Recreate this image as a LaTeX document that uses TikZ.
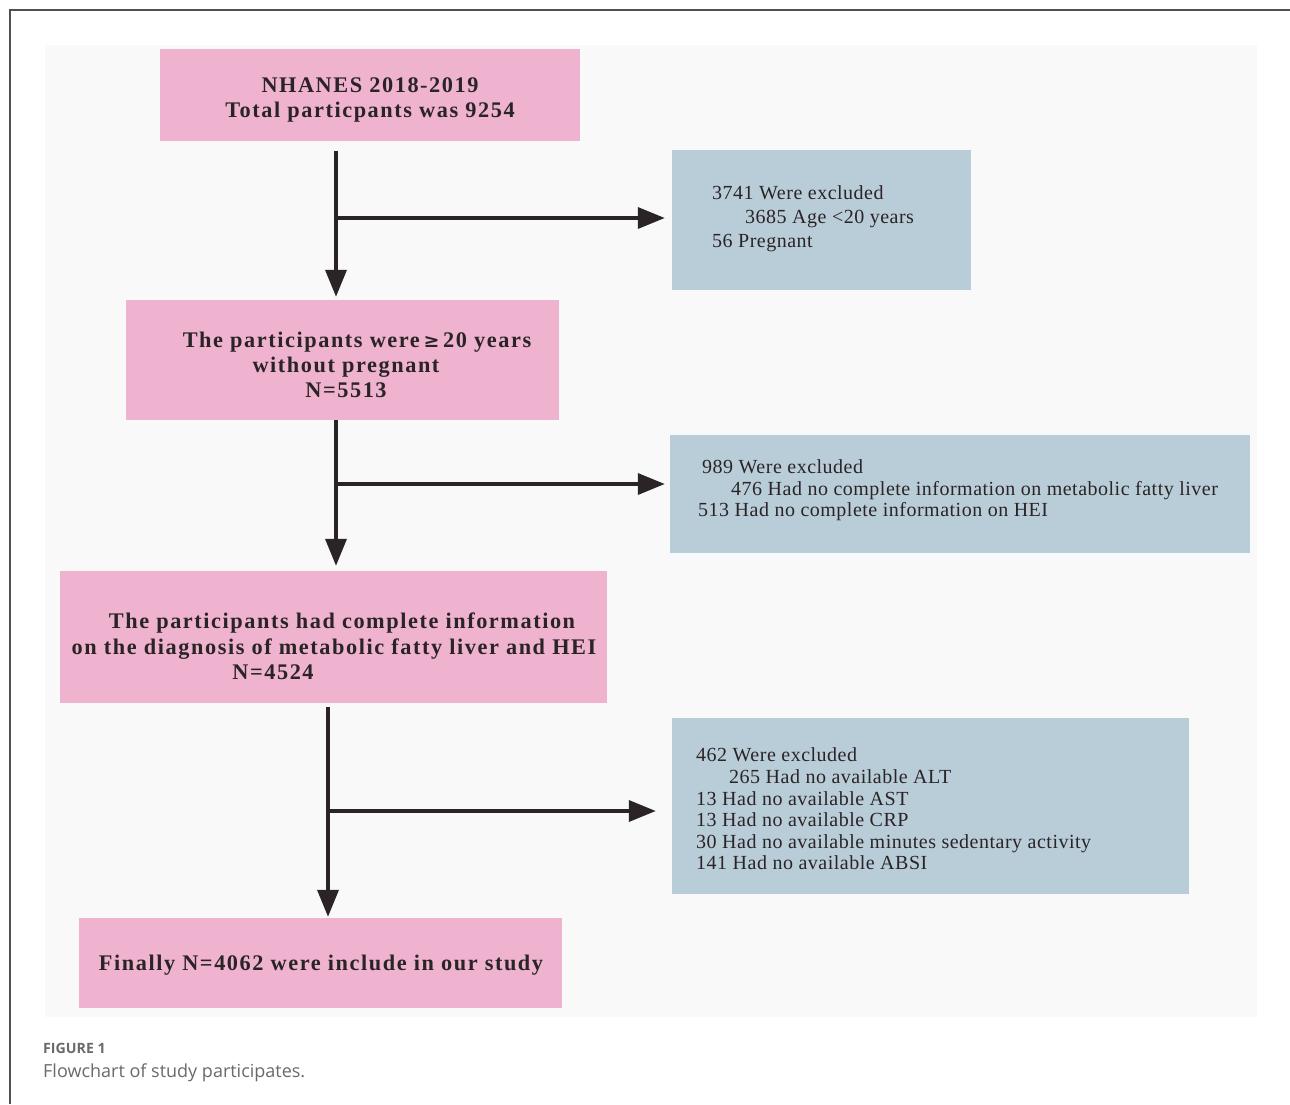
\documentclass[tikz,border=0pt]{standalone}
\usepackage{fontspec}
\setmainfont{Liberation Serif}
\newfontfamily\pinkfont{Liberation Serif}[LetterSpace=7]
\newfontfamily\bluefont{Liberation Serif}[LetterSpace=2.5]
\newfontfamily\capfont{Open Sans}
\usetikzlibrary{arrows.meta}
\definecolor{pinkbox}{HTML}{EFB3D0}
\definecolor{bluebox}{HTML}{B9CDD9}
\definecolor{panel}{HTML}{F9F9F9}
\definecolor{ink}{HTML}{2A2426}
\definecolor{frame}{HTML}{505050}
\definecolor{capgray}{HTML}{6A6A6A}
\tikzset{
  pinkrect/.style={fill=pinkbox, draw=none, inner sep=0pt},
  bluerect/.style={fill=bluebox, draw=none, inner sep=0pt},
  pinktext/.style={anchor=base, inner sep=0pt, text=ink, font=\pinkfont\bfseries\fontsize{22.3}{26}\selectfont},
  bluetext/.style={anchor=base west, inner sep=0pt, text=ink, font=\bluefont\fontsize{20}{24}\selectfont},
  flow/.style={draw=ink, line width=3.6pt, -{Triangle[length=27pt,width=21pt]}}
}
\begin{document}
\begin{tikzpicture}[x=1pt,y=-1pt]
\useasboundingbox (0,0) rectangle (1290,1104);
\fill[white] (0,0) rectangle (1290,1104);
% outer frame
\draw[frame, line width=1.6pt] (1290,10) -- (10,10) -- (10,1104);
% panel
\fill[panel] (45,45) rectangle (1257,1017);

% pink boxes
\node[pinkrect, minimum width=420pt, minimum height=92pt] (b1) at (370,95) {};
\node[pinkrect, minimum width=433pt, minimum height=120pt] (b2) at (342.5,360) {};
\node[pinkrect, minimum width=547pt, minimum height=132pt] (b3) at (333.5,637) {};
\node[pinkrect, minimum width=483pt, minimum height=90pt] (b4) at (320.5,963) {};

% blue boxes
\node[bluerect, minimum width=299pt, minimum height=140pt] (e1) at (821.5,220) {};
\node[bluerect, minimum width=580pt, minimum height=118pt] (e2) at (960,494) {};
\node[bluerect, minimum width=517pt, minimum height=176pt] (e3) at (930.5,806) {};

% pink texts
\node[pinktext] (t1a) at (370,92) {NHANES 2018-2019};
\node[pinktext] (t1b) at (370,117) {Total particpants was 9254};
\node[pinktext] (t2a) at (357,347) {The participants were\,{\fontspec{DejaVu Serif}\bfseries\fontsize{19}{24}\selectfont ≥}\,20 years};
\node[pinktext] (t2b) at (346,372) {without pregnant};
\node[pinktext] (t2c) at (346,397) {N=5513};
\node[pinktext] (t3a) at (342,628) {The participants had complete information};
\node[pinktext] (t3b) at (334,654) {on the diagnosis of metabolic fatty liver and HEI};
\node[pinktext] (t3c) at (273,679) {N=4524};
\node[pinktext] (t4a) at (321,970) {Finally N=4062 were include in our study};

% blue texts
\node[bluetext] (u1a) at (712,199) {3741 Were excluded};
\node[bluetext] (u1b) at (745,223) {3685 Age <20 years};
\node[bluetext] (u1c) at (712,247.5) {56 Pregnant};
\node[bluetext] (u2a) at (702,473) {989 Were excluded};
\node[bluetext] (u2b) at (731,495) {476 Had no complete information on metabolic fatty liver};
\node[bluetext] (u2c) at (698,516.5) {513 Had no complete information on HEI};
\node[bluetext] (u3a) at (696,761) {462 Were excluded};
\node[bluetext] (u3b) at (729,783) {265 Had no available ALT};
\node[bluetext] (u3c) at (696,805) {13 Had no available AST};
\node[bluetext] (u3d) at (696,826) {13 Had no available CRP};
\node[bluetext] (u3e) at (696,848) {30 Had no available minutes sedentary activity};
\node[bluetext] (u3f) at (696,869) {141 Had no available ABSI};

% connectors
\coordinate (s1) at (336,151);
\coordinate (j1) at (336,218);
\coordinate (s2) at (336,420);
\coordinate (j2) at (336,484);
\coordinate (s3) at (328,707);
\coordinate (j3) at (328,811);
\draw[flow, shorten >=3pt] (s1) -- (s1 |- b2.north);
\draw[flow, shorten >=7pt] (j1) -- (j1 -| e1.west);
\draw[flow, shorten >=5pt] (s2) -- (s2 |- b3.north);
\draw[flow, shorten >=5pt] (j2) -- (j2 -| e2.west);
\draw[flow, shorten >=1pt] (s3) -- (s3 |- b4.north);
\draw[flow, shorten >=16pt] (j3) -- (j3 -| e3.west);

% caption
\node[anchor=base west, inner sep=0pt, text=capgray, font=\capfont\bfseries\fontsize{14.2}{16}\selectfont] (cap1) at (43,1053) {FIGURE 1};
\node[anchor=base west, inner sep=0pt, text=capgray, font=\capfont\fontsize{18}{22}\selectfont] (cap2) at (43,1077) {Flowchart of study participates.};
\end{tikzpicture}
\end{document}
